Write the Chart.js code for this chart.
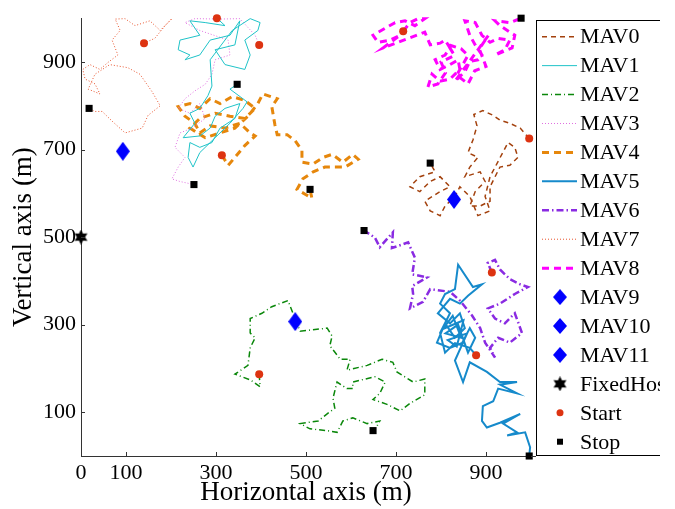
<!DOCTYPE html>
<html>
<head>
<meta charset="utf-8">
<script src="https://cdn.jsdelivr.net/npm/chart.js@4.4.0/dist/chart.umd.min.js"></script>
<style>
  html, body { margin: 0; padding: 0; background: #fff; }
  #wrap { width: 675px; height: 509px; }
</style>
</head>
<body>
<div id="wrap"><canvas id="chart" width="675" height="509"></canvas></div>
<script>
const FONT = "'Liberation Serif', 'Times New Roman', serif";

const xTicks = [0, 100, 300, 500, 700, 900];
const yTicks = [100, 300, 500, 700, 900];
const legendLabels = ['MAV0', 'MAV1', 'MAV2', 'MAV3', 'MAV4', 'MAV5', 'MAV6', 'MAV7', 'MAV8',
  'MAV9', 'MAV10', 'MAV11', 'FixedHost', 'Start', 'Stop'];

// trajectories, [x, y] in metres
const mav0 = [[996,725],[976,749],[953,760],[931,767],[916,778],[893,789],[873,780],[880,754],
  [871,722],[860,693],[882,682],[864,660],[853,638],[887,649],[898,627],[876,604],[864,571],
  [887,571],[909,582],[909,615],[931,660],[953,664],[971,682],[964,705],[949,716],[909,638],
  [898,593],[909,560],[882,549],[864,593],[842,615],[831,593],[809,571],[798,549],[776,560],
  [764,582],[798,604],[820,615],[798,638],[776,627],[753,604],[731,615],[753,638],[787,649],
  [776,669]];
const mav1 = [[302,1000],[320,983],[276,990],[242,994],[264,961],[220,950],[216,928],[242,916],
  [231,905],[264,916],[287,950],[331,961],[353,994],[342,939],[298,928],[320,894],[364,883],
  [376,916],[364,950],[393,972],[398,990],[376,999],[336,972],[287,905],[291,845],[282,823],
  [264,794],[242,783],[253,760],[227,727],[264,731],[287,749],[298,776],[320,794],[353,805],
  [342,771],[309,749],[291,716],[264,705],[242,716],[238,682],[249,660],[264,693],[298,727],
  [331,760],[360,794],[369,809],[331,838],[347,849]];
const mav2 = [[396,187],[398,158],[376,174],[342,187],[371,207],[376,247],[387,270],[376,281],
  [376,314],[402,326],[424,341],[460,355],[471,326],[487,285],[547,292],[558,274],[553,252],
  [576,221],[598,221],[591,196],[636,207],[669,221],[693,214],[702,192],[738,169],[764,176],
  [764,140],[731,120],[709,103],[680,118],[649,129],[664,143],[676,169],[653,181],[604,169],
  [604,154],[591,154],[569,169],[560,132],[564,109],[549,98],[527,80],[487,74],[509,62],
  [547,58],[569,54],[582,80],[604,87],[636,74],[664,80],[658,69],[649,58]];
const mav3 = [[396,939],[387,961],[353,999],[309,998],[253,999],[231,990],[264,972],[327,950],
  [331,916],[298,905],[291,872],[276,849],[253,834],[231,816],[216,794],[242,783],[264,805],
  [276,771],[247,749],[220,738],[209,705],[231,682],[216,660],[202,633],[220,627],[251,620]];
const mav4 = [[313,687],[327,664],[342,682],[364,709],[387,731],[376,738],[353,760],[320,749],
  [287,754],[264,738],[253,760],[231,776],[216,798],[242,805],[264,794],[287,816],[309,805],
  [336,821],[364,812],[387,794],[364,771],[331,776],[298,783],[264,771],[242,749],[276,727],
  [309,738],[342,749],[371,776],[393,805],[404,827],[436,816],[424,798],[431,756],[436,734],
  [458,734],[476,720],[491,698],[491,671],[516,667],[538,682],[558,689],[582,671],[604,689],
  [616,678],[587,660],[542,660],[516,649],[493,633],[480,609],[498,598],[513,589],[509,609]];
const mav5 = [[878,230],[864,247],[831,258],[809,236],[798,281],[820,326],[798,348],[809,370],
  [831,381],[838,437],[871,386],[891,392],[860,366],[842,348],[820,359],[793,326],[820,303],
  [842,326],[853,292],[831,270],[809,303],[791,259],[820,247],[847,258],[864,292],[876,270],
  [860,236],[838,300],[810,280],[845,270],[826,320],[804,290],[850,310],[835,250],[815,265],
  [858,280],[831,218],[849,169],[864,214],[902,192],[931,169],[969,169],[931,163],[969,143],
  [927,154],[916,125],[893,114],[891,80],[902,65],[931,76],[976,96],[938,74],[969,54],
  [947,47],[987,54],[998,20],[996,0]];
const mav6 = [[913,419],[904,441],[920,448],[931,426],[953,404],[976,392],[993,386],[964,370],
  [931,348],[904,337],[920,314],[942,303],[964,326],[980,281],[953,259],[927,270],[909,247],
  [920,225],[898,259],[887,292],[869,321],[842,355],[820,375],[776,381],[760,352],[731,337],
  [738,370],[736,388],[769,408],[736,415],[742,453],[727,488],[691,475],[693,511],[664,477],
  [653,499],[629,515]];
const mav7 = [[140,943],[164,954],[187,983],[202,999],[176,972],[153,994],[120,983],[98,999],
  [76,998],[87,972],[69,950],[82,916],[60,899],[42,883],[20,894],[4,883],[9,861],[31,850],
  [42,827],[16,838],[31,872],[64,894],[104,887],[131,872],[158,832],[176,800],[149,778],
  [136,749],[98,738],[69,765],[47,787],[31,787],[18,794]];
const mav8 = [[716,970],[731,990],[749,999],[764,999],[742,983],[720,994],[698,990],[676,977],
  [649,961],[660,945],[687,950],[709,961],[671,932],[764,968],[776,939],[798,943],[809,950],
  [820,932],[809,916],[787,905],[798,883],[820,894],[838,905],[842,883],[820,861],[798,856],
  [780,872],[771,843],[793,850],[810,875],[800,900],[830,915],[815,940],[845,930],[860,915],
  [835,870],[860,850],[875,880],[900,890],[885,930],[905,960],[831,856],[853,878],[864,901],
  [882,905],[891,916],[876,939],[864,961],[853,994],[876,990],[891,961],[909,945],[927,954],
  [953,950],[942,928],[920,916],[958,932],[964,961],[931,983],[920,994],[953,990],[978,1000]];

const mav9 = [[93, 696]];
const mav10 = [[476, 307]];
const mav11 = [[829, 586]];
const fixedHost = [[0, 500]];
const startPoints = [[140,943],[302,1000],[396,939],[313,687],[716,970],[996,725],[913,419],[878,230],[396,187]];
const stopPoints = [[18,794],[347,849],[251,620],[509,609],[978,1000],[776,669],[629,515],[649,58],[996,0]];

const lineStyles = [
  { color: '#a3410d', width: 1.5, dash: [5, 4] },
  { color: '#1fc3c8', width: 1, dash: [] },
  { color: '#0a870a', width: 1.5, dash: [6, 3, 1, 3] },
  { color: '#e06ee0', width: 1, dash: [1, 2] },
  { color: '#e6870c', width: 3, dash: [7, 5] },
  { color: '#168acb', width: 2, dash: [] },
  { color: '#8a2be2', width: 2.5, dash: [7, 3, 1.5, 3] },
  { color: '#e8532c', width: 1, dash: [1, 2] },
  { color: '#ff00ff', width: 3, dash: [7, 5] },
];
const trajectories = [mav0, mav1, mav2, mav3, mav4, mav5, mav6, mav7, mav8];

const toXY = (pairs) => pairs.map(([x, y]) => ({ x, y }));

function makeDiamond(w, h) {
  const c = document.createElement('canvas');
  c.width = w; c.height = h;
  const g = c.getContext('2d');
  g.fillStyle = '#0000ff';
  g.beginPath();
  g.moveTo(w / 2, 0); g.lineTo(w, h / 2); g.lineTo(w / 2, h); g.lineTo(0, h / 2);
  g.closePath(); g.fill();
  return c;
}

function makeStar(size) {
  const c = document.createElement('canvas');
  c.width = size; c.height = size;
  const g = c.getContext('2d');
  const r = size / 2, ri = r * 0.55;
  g.fillStyle = '#000';
  g.beginPath();
  for (let i = 0; i < 12; i++) {
    const a = -Math.PI / 2 + i * Math.PI / 6;
    const rr = i % 2 === 0 ? r : ri;
    const px = r + rr * Math.cos(a), py = r + rr * Math.sin(a);
    if (i === 0) g.moveTo(px, py); else g.lineTo(px, py);
  }
  g.closePath(); g.fill();
  return c;
}

const diamondImg = makeDiamond(14, 19);
const legendDiamondImg = makeDiamond(14, 16);
const starImg = makeStar(15);

const markerDataset = (label, pts, extra) => Object.assign({
  label, data: toXY(pts), showLine: false, clip: false, borderWidth: 0,
}, extra);

const datasets = [
  markerDataset('Start', startPoints, { pointStyle: 'circle', pointRadius: 4, backgroundColor: '#dd3311', borderColor: '#dd3311' }),
  markerDataset('Stop', stopPoints, { pointStyle: 'rect', pointRadius: 5, backgroundColor: '#000', borderColor: '#000' }),
  markerDataset('FixedHost', fixedHost, { pointStyle: starImg, pointRadius: 8 }),
  markerDataset('MAV9', mav9, { pointStyle: diamondImg, pointRadius: 9 }),
  markerDataset('MAV10', mav10, { pointStyle: diamondImg, pointRadius: 9 }),
  markerDataset('MAV11', mav11, { pointStyle: diamondImg, pointRadius: 9 }),
];
trajectories.forEach((pts, i) => {
  const s = lineStyles[i];
  datasets.push({
    label: 'MAV' + i,
    data: toXY(pts),
    showLine: true,
    pointRadius: 0,
    borderColor: s.color,
    borderWidth: s.width,
    borderDash: s.dash,
    tension: 0,
    fill: false,
    clip: false,
  });
});

const inwardTicks = {
  id: 'inwardTicks',
  afterDraw(chart) {
    const { ctx, chartArea: a, scales: { x, y } } = chart;
    ctx.save();
    ctx.strokeStyle = '#333';
    ctx.lineWidth = 1;
    ctx.beginPath();
    x.ticks.forEach((t) => {
      if (t.value === 0) return;
      const px = Math.round(x.getPixelForValue(t.value)) + 0.5;
      ctx.moveTo(px, a.bottom); ctx.lineTo(px, a.bottom - 4);
    });
    y.ticks.forEach((t) => {
      const py = Math.round(y.getPixelForValue(t.value)) + 0.5;
      ctx.moveTo(a.left, py); ctx.lineTo(a.left + 4, py);
    });
    // bottom spine runs on to the legend box
    ctx.moveTo(a.right, a.bottom + 0.5); ctx.lineTo(536, a.bottom + 0.5);
    ctx.stroke();
    ctx.restore();
  },
};

const boxLegend = {
  id: 'boxLegend',
  afterDraw(chart) {
    const ctx = chart.ctx;
    const left = 536, top = 20, bottom = 455, clipRight = 660;
    const rowY = (i) => 36.7 + i * 28.93;
    ctx.save();
    ctx.beginPath(); ctx.rect(0, 0, clipRight, 509); ctx.clip();
    ctx.fillStyle = '#fff';
    ctx.fillRect(left, top, 200, bottom - top);
    ctx.strokeStyle = '#000';
    ctx.lineWidth = 1;
    ctx.setLineDash([]);
    ctx.strokeRect(left + 0.5, top + 0.5, 200, bottom - top);

    legendLabels.forEach((label, i) => {
      const yy = rowY(i);
      if (i < 9) {
        const s = lineStyles[i];
        ctx.save();
        ctx.strokeStyle = s.color;
        ctx.lineWidth = s.width;
        ctx.setLineDash(s.dash);
        ctx.beginPath();
        ctx.moveTo(542, yy); ctx.lineTo(577, yy);
        ctx.stroke();
        ctx.restore();
      } else if (i < 12) {
        ctx.drawImage(legendDiamondImg, 560 - 7, yy - 8);
      } else if (i === 12) {
        ctx.drawImage(starImg, 560 - 7.5, yy - 7.5);
      } else if (i === 13) {
        ctx.fillStyle = '#dd3311';
        ctx.beginPath(); ctx.arc(560, yy, 3.5, 0, Math.PI * 2); ctx.fill();
      } else {
        ctx.fillStyle = '#000';
        ctx.fillRect(557, yy - 3, 6, 6);
      }
      ctx.fillStyle = '#000';
      ctx.font = '22px ' + FONT;
      ctx.textAlign = 'left';
      ctx.textBaseline = 'middle';
      ctx.fillText(label, 580, yy + 1);
    });
    ctx.restore();
  },
};

new Chart(document.getElementById('chart'), {
  type: 'scatter',
  data: { datasets },
  plugins: [inwardTicks, boxLegend],
  options: {
    responsive: false,
    animation: false,
    events: [],
    layout: { padding: { left: 0, top: 6, right: 144, bottom: 0 } },
    plugins: { legend: { display: false }, tooltip: { enabled: false } },
    scales: {
      x: {
        type: 'linear',
        min: 0,
        max: 1000,
        afterBuildTicks: (s) => { s.ticks = xTicks.map((v) => ({ value: v })); },
        afterFit: (s) => { s.height = 53; },
        grid: { display: false, drawTicks: false },
        border: { display: true, color: '#333', width: 1 },
        ticks: { color: '#000', font: { family: FONT, size: 22 }, padding: 4, maxRotation: 0, autoSkip: false },
        title: { display: true, text: 'Horizontal axis (m)', color: '#000', font: { family: FONT, size: 27 }, padding: { top: 0, bottom: 0 } },
      },
      y: {
        type: 'linear',
        min: 0,
        max: 1000,
        afterBuildTicks: (s) => { s.ticks = yTicks.map((v) => ({ value: v })); },
        afterFit: (s) => { s.width = 81; },
        grid: { display: false, drawTicks: false },
        border: { display: true, color: '#333', width: 1 },
        ticks: { color: '#000', font: { family: FONT, size: 22 }, padding: 5, autoSkip: false },
        title: { display: true, text: 'Vertical axis (m)', color: '#000', font: { family: FONT, size: 27 }, padding: { top: 8, bottom: 0 } },
      },
    },
  },
});
</script>
</body>
</html>
